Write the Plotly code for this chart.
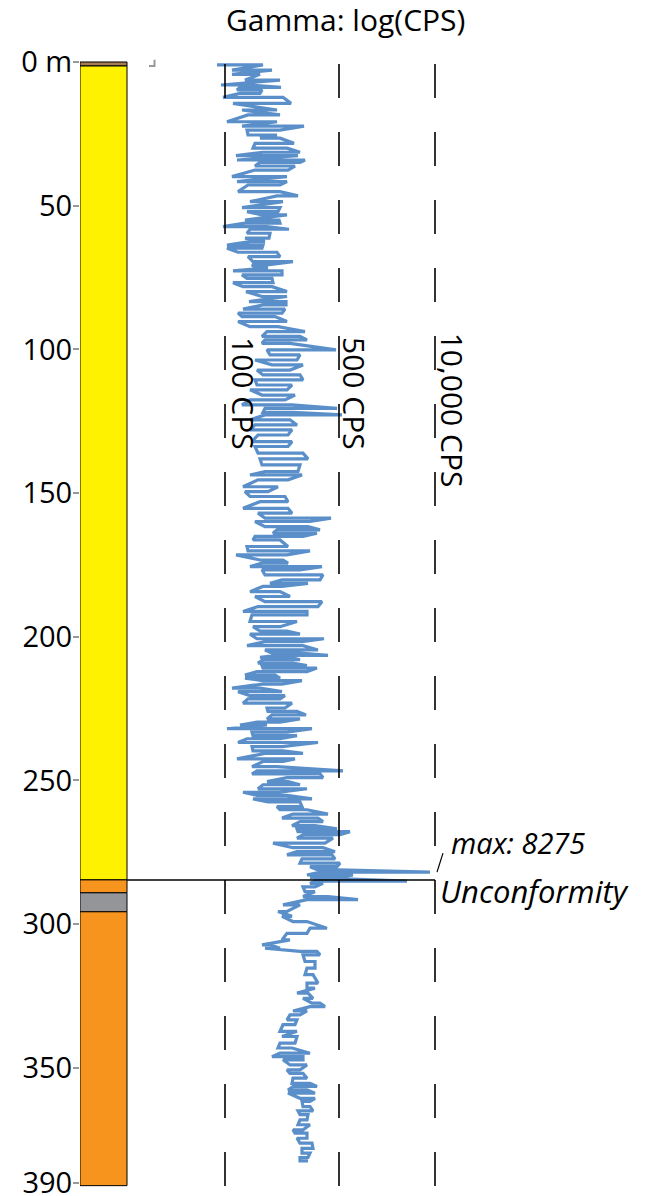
import plotly.graph_objects as go

# ---------------- data ----------------
# Lithology column (depth in m)
litho_top = [0.0, 1.4, 284.6, 289.1, 295.7]
litho_base = [1.4, 284.6, 289.1, 295.7, 391.0]
litho_color = ["#a67c52", "#fff200", "#f7941d", "#939598", "#f7941d"]

# Depth axis
depth_ticks = [0, 50, 100, 150, 200, 250, 300, 350, 390]
depth_labels = ["0 m", "50", "100", "150", "200", "250", "300", "350", "390"]

# Gamma reference lines (track position) and labels
ref_pos = [225, 339, 435]
ref_labels = ["100 CPS", "500 CPS", "10,000 CPS"]

unconformity_depth = 284.6
max_depth = 281.9

# Gamma log: depth (m) and two readings per depth step (track position)
gamma_depth = [
    1.0, 2.8, 4.3, 6.3, 8.0, 8.8, 9.7, 10.9, 12.3, 14.4, 16.7, 18.4, 20.8, 22.3, 23.7, 25.4, 26.5, 28.3, 30.0, 31.4,
    32.6, 34.1, 34.9, 36.2, 37.6, 39.9, 41.6, 42.8, 45.1,
    46.6, 48.6, 50.7, 52.1, 53.2, 55.0, 56.1, 57.3, 58.2, 59.6, 61.3, 62.5, 63.7, 64.8, 66.2, 67.7, 69.5, 70.6, 71.6,
    72.7, 74.1, 75.3, 76.8, 78.2, 79.9, 81.6, 83.4, 84.5, 86.0, 87.4, 88.6, 90.3, 92.1, 93.8,
    95.5, 96.7, 97.9, 100.2, 101.9, 103.7, 105.4, 107.2, 108.9, 110.6, 112.4, 114.1, 115.9, 117.6, 119.3, 120.5,
    121.9, 122.8, 124.5, 126.3, 128.0, 129.8, 132.1, 133.8, 136.1, 138.1, 140.2, 142.5,
    143.7, 145.4, 147.8, 149.5, 151.2, 153.0, 155.3, 157.0, 158.7, 159.9, 161.7, 162.8, 164.0, 165.1, 166.3, 168.6,
    170.1, 171.5, 173.3, 174.4, 175.6, 176.7, 178.5, 180.2, 181.4, 182.5, 184.3, 186.0, 187.8, 189.5, 191.2,
    192.4, 194.7, 196.5, 198.0, 199.1, 200.7, 201.7, 203.1, 204.6, 205.7, 206.5, 207.2, 208.0, 209.2, 210.0, 210.9,
    212.1, 213.3, 214.4, 215.3, 216.5, 217.9, 219.1, 220.5, 221.6, 223.1, 224.8, 226.0, 227.2, 228.6, 229.7, 230.7,
    232.0, 233.2, 234.4, 235.5, 236.8, 238.2, 239.7, 240.6,
    242.5, 243.4, 245.2, 246.7, 247.7, 249.0, 250.4, 251.5, 252.9, 254.1, 255.2, 256.4, 257.5, 259.1, 260.2, 261.7,
    263.1, 264.3, 265.7, 266.8, 267.8, 268.9, 270.1, 271.8, 273.4, 274.8, 275.9, 277.3, 278.8, 280.0, 281.1, 281.9,
    282.9, 283.8, 285.0, 285.8, 287.0, 288.7,
    290.4, 291.5, 293.3, 295.6, 297.3, 299.1, 301.4, 303.2, 305.5, 307.2, 308.4, 309.5, 310.7, 313.0, 315.3, 317.6,
    320.5, 322.3, 324.0, 325.8, 327.5, 328.7, 330.2, 331.6, 333.3, 335.0, 337.3,
    339.1, 341.4, 343.1, 344.9, 346.1, 347.2, 349.0, 350.7, 351.9, 353.6, 355.4, 356.5, 357.7, 358.8, 360.6, 361.7,
    363.5, 365.0, 366.3, 368.1, 369.8, 371.6, 372.7, 374.5, 376.2, 378.0, 379.7, 381.2, 382.4,
]
gamma_a = [
    217, 232, 232, 245, 221, 281, 237, 260, 223, 291, 277, 280, 227, 242, 280, 248, 260, 294, 253, 300,
    236, 237, 300, 255, 288, 232, 237, 280, 238,
    298, 250, 242, 278, 262, 245, 280, 223, 289, 247, 269, 265, 227, 262, 238, 280, 253, 267, 255,
    233, 282, 247, 273, 243, 287, 262, 249, 286, 243, 282, 242, 287, 250, 305,
    262, 307, 262, 336, 270, 297, 272, 290, 263, 303, 257, 287, 262, 285, 242, 337,
    263, 342, 250, 297, 250, 288, 252, 288, 258, 308, 262, 298,
    250, 288, 243, 268, 250, 288, 243, 292, 265, 310, 265, 320, 273, 303, 253, 288,
    248, 287, 260, 288, 250, 300, 265, 320, 270, 282, 250, 290, 265, 318, 243,
    307, 250, 280, 260, 300, 257, 302, 247, 318, 272, 328, 260, 300, 258, 307, 263,
    307, 245, 280, 263, 282, 232, 282, 250, 280, 243, 285, 268, 306, 267, 280, 240,
    227, 287, 253, 280, 238, 282, 253, 303,
    237, 283, 252, 343, 252, 323, 267, 300, 258, 280, 257, 312, 268, 302, 280, 328,
    282, 323, 292, 337, 298, 340, 297, 325, 293, 335, 287, 335, 300, 337, 318, 430,
    307, 337, 407, 310, 315, 305,
    303, 358, 283, 287, 292, 293, 327, 307, 282, 262, 280, 300, 320, 305, 315, 305,
    318, 307, 297, 313, 312, 325, 293, 300, 287, 295, 280,
    282, 295, 278, 310, 272, 303, 290, 300, 290, 307, 292, 317, 288, 315, 300, 310,
    303, 313, 300, 307, 298, 303, 295, 307, 300, 313, 302, 308, 300,
]
gamma_b = [
    263, 272, 260, 280, 250, 240, 262, 240, 283, 233, 242, 248, 277, 304, 247, 277, 280, 255, 287, 263,
    298, 305, 260, 295, 255, 287, 287, 248, 280,
    277, 283, 280, 247, 287, 279, 245, 267, 250, 270, 245, 250, 263, 227, 277, 248, 293, 252, 268,
    282, 242, 272, 233, 272, 246, 287, 286, 263, 285, 238, 275, 238, 278, 267,
    300, 265, 290, 267, 300, 255, 303, 257, 300, 255, 292, 250, 295, 250, 292, 265,
    293, 265, 290, 255, 292, 258, 292, 255, 303, 260, 300, 265,
    302, 258, 278, 245, 285, 260, 288, 258, 331, 255, 308, 277, 317, 255, 280, 247,
    310, 236, 283, 262, 322, 262, 323, 282, 308, 263, 280, 255, 322, 258, 307,
    252, 297, 253, 287, 250, 324, 265, 303, 265, 300, 277, 290, 263, 293, 262, 317,
    257, 275, 245, 302, 262, 260, 238, 285, 248, 292, 267, 297, 272, 300, 257, 267,
    312, 252, 297, 247, 318, 252, 283, 265,
    295, 263, 277, 257, 320, 287, 288, 263, 307, 243, 287, 253, 300, 277, 307, 293,
    318, 300, 315, 297, 350, 303, 333, 273, 323, 297, 332, 302, 340, 310, 338, 320,
    353, 310, 315, 323, 303, 315,
    328, 307, 300, 278, 282, 307, 310, 287, 290, 270, 265, 317, 303, 315, 307, 313,
    307, 315, 308, 303, 320, 310, 307, 290, 297, 283, 297,
    297, 280, 292, 280, 303, 283, 307, 287, 303, 293, 310, 293, 307, 288, 315, 302,
    310, 298, 308, 300, 310, 293, 307, 297, 312, 302, 310, 300, 308,
]

# ---------------- build ----------------
FONT = "Open Sans"
gx, gy = [], []
for d, a, b in zip(gamma_depth, gamma_a, gamma_b):
    gx += [a, b]
    gy += [d, d]

fig = go.Figure()
fig.add_trace(go.Scatter(x=gx, y=gy, mode="lines",
                         line=dict(color="#5b8fc9", width=3.2),
                         hoverinfo="skip", showlegend=False))

shapes = []
# lithology column
for t, b, c in zip(litho_top, litho_base, litho_color):
    shapes.append(dict(type="rect", xref="x", yref="y", x0=80, x1=127, y0=t, y1=b,
                       fillcolor=c, line=dict(color="black", width=1), layer="below"))
# dashed reference lines
for p in ref_pos:
    shapes.append(dict(type="line", xref="x", yref="y", x0=p, x1=p, y0=0.7, y1=392,
                       line=dict(color="black", width=1.6, dash="34px,34px")))
# unconformity line
shapes.append(dict(type="line", xref="x", yref="y", x0=127, x1=ref_pos[2],
                   y0=unconformity_depth, y1=unconformity_depth,
                   line=dict(color="black", width=1.5)))
# leader for max label
shapes.append(dict(type="line", xref="x", yref="y", x0=437, x1=443,
                   y0=max_depth, y1=max_depth - 6.6,
                   line=dict(color="black", width=1.2)))
# small grey corner mark at top
shapes.append(dict(type="path", xref="x", yref="y",
                   path="M 149,1.4 L 154.5,1.4 L 154.5,-0.8",
                   line=dict(color="#999999", width=2)))

annotations = [
    dict(text="Gamma: log(CPS)", x=345, y=-14.8, xref="x", yref="y", showarrow=False,
         font=dict(family=FONT, size=30, color="black"), xanchor="center", yanchor="middle"),
    dict(text="<i>max: 8275</i>", x=449, y=271.5, xref="x", yref="y", showarrow=False,
         font=dict(family=FONT, size=29, color="black"), xanchor="left", yanchor="middle"),
    dict(text="<i>Unconformity</i>", x=438, y=288.3, xref="x", yref="y", showarrow=False,
         font=dict(family=FONT, size=31, color="black"), xanchor="left", yanchor="middle"),
]
label_x = [244, 355, 452]
label_y = [115.2, 115.2, 121.0]
for lx, ly, t in zip(label_x, label_y, ref_labels):
    annotations.append(dict(text=t, x=lx, y=ly, xref="x", yref="y", showarrow=False,
                            textangle=90, font=dict(family=FONT, size=30, color="black"),
                            xanchor="center", yanchor="middle"))

fig.update_layout(
    width=647, height=1196,
    margin=dict(l=80, r=0, t=0, b=0),
    paper_bgcolor="white", plot_bgcolor="white",
    showlegend=False,
    shapes=shapes, annotations=annotations,
    xaxis=dict(range=[80, 647], visible=False, fixedrange=True),
    yaxis=dict(range=[394.6, -21.57], tickvals=depth_ticks, ticktext=depth_labels,
               ticks="outside", ticklen=6, tickwidth=1.5, tickcolor="#999999",
               showgrid=False, zeroline=False, showline=False, automargin=False,
               ticklabeloverflow="allow", ticklabelstandoff=-5,
               tickfont=dict(family=FONT, size=29, color="black")),
)

fig.write_html("out.html", config={"displayModeBar": False},
               post_script="document.body.style.margin='0';document.body.style.overflow='hidden';")
